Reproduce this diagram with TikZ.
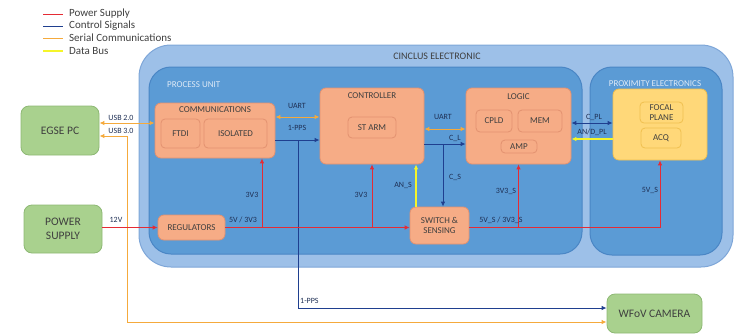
\documentclass[tikz,border=0pt]{standalone}
\usepackage{fontspec}
\setmainfont{Carlito}
\usetikzlibrary{arrows.meta}
\definecolor{OuterBlue}{HTML}{9DC0E8}
\definecolor{OuterEdge}{HTML}{7EA6D8}
\definecolor{InnerBlue}{HTML}{5B9BD5}
\definecolor{InnerEdge}{HTML}{4A86C5}
\definecolor{LOrange}{HTML}{F6AC86}
\definecolor{DOrange}{HTML}{E39270}
\definecolor{LYellow}{HTML}{FFD879}
\definecolor{DYellow}{HTML}{F0C050}
\definecolor{LGreen}{HTML}{A9D18E}
\definecolor{DGreen}{HTML}{8DB874}
\definecolor{PowerRed}{HTML}{E52B34}
\definecolor{CtrlBlue}{HTML}{1F3F8F}
\definecolor{SerialOrange}{HTML}{F5AA3C}
\definecolor{BusYellow}{HTML}{F5F52A}
\definecolor{TextGray}{HTML}{3F3F3F}
\definecolor{LabelBlue}{HTML}{1F3055}
\definecolor{TitleWhite}{HTML}{DDE9F6}
\NewDocumentCommand{\LegendEntry}{O{0.9pt} m m m m}{
    \draw[#4, line width=#1] (43,#3) -- (63,#3);
    \node[legendtext, anchor=west] (#2) at (69,#3) {#5};
}

\begin{document}
\begin{tikzpicture}[x=1pt, y=-1pt,
    every node/.style={inner sep=0pt, text=TextGray},
    housing/.style={draw=OuterEdge, fill=OuterBlue, line width=1pt, rounded corners=32pt},
    unit/.style={draw=InnerEdge, fill=InnerBlue, line width=1pt, rounded corners=22pt},
    unitname/.style={text=TitleWhite, font=\fontsize{9}{10}\selectfont},
    orangebox/.style={draw=DOrange, fill=LOrange, line width=0.8pt, rounded corners=6pt,
        align=center, font=\fontsize{9}{10.5}\selectfont},
    orangesub/.style={orangebox, rounded corners=4pt},
    yellowbox/.style={draw=DYellow, fill=LYellow, line width=0.8pt, rounded corners=6pt,
        align=center, font=\fontsize{9}{10.5}\selectfont},
    yellowsub/.style={yellowbox, rounded corners=4pt},
    greenbox/.style={draw=DGreen, fill=LGreen, line width=0.8pt, rounded corners=8pt,
        align=center, font=\fontsize{11.5}{14}\selectfont},
    boxtitle/.style={font=\fontsize{9}{10.5}\selectfont},
    sig/.style={font=\fontsize{8}{9}\selectfont, text=LabelBlue},
    legendtext/.style={font=\fontsize{11}{12}\selectfont},
    power/.style={PowerRed, line width=0.9pt},
    control/.style={CtrlBlue, line width=0.9pt},
    serial/.style={SerialOrange, line width=1pt},
    databus/.style={BusYellow, line width=2.2pt},
    arr/.style={-{Latex[length=5pt, width=4.5pt]}},
    biarr/.style={{Latex[length=5pt, width=4.5pt]}-{Latex[length=5pt, width=4.5pt]}}]
\useasboundingbox (0,0) rectangle (743,335);

% legend
\LegendEntry{leg-power}{14}{PowerRed}{Power Supply}
\LegendEntry{leg-control}{26}{CtrlBlue}{Control Signals}
\LegendEntry{leg-serial}{38}{SerialOrange}{Serial Communications}
\LegendEntry[2.5pt]{leg-bus}{51}{BusYellow}{Data Bus}

% housings
\node[housing, minimum width=594, minimum height=222] (cinclus) at (436,156) {};
\node[font=\fontsize{10}{12}\selectfont] (cinclus-title) at (437,56) {CINCLUS ELECTRONIC};
\node[unit, minimum width=433, minimum height=187] (pu) at (365.5,160.5) {};
\node[unit, minimum width=132, minimum height=188] (pe) at (656,161) {};
\node[unitname, anchor=west] (pu-title) at (167,85) {PROCESS UNIT};
\node[unitname] (pe-title) at (655,84) {PROXIMITY ELECTRONICS};

% outside boxes
\node[greenbox, minimum width=78, minimum height=49] (egse) at (60,130.5) {EGSE PC};
\node[greenbox, minimum width=78, minimum height=48] (psu) at (63,229) {POWER\\SUPPLY};
\node[greenbox, minimum width=95, minimum height=39] (wfov) at (654.5,313.5) {WFoV CAMERA};

% process unit
\node[orangebox, minimum width=120, minimum height=55] (comm) at (215,130.5) {};
\node[boxtitle] (comm-title) at (215,110) {COMMUNICATIONS};
\node[orangesub, minimum width=39, minimum height=29] (ftdi) at (180.5,133.5) {FTDI};
\node[orangesub, minimum width=63, minimum height=29] (isolated) at (235.5,133.5) {ISOLATED};

\node[orangebox, minimum width=104, minimum height=76] (ctrl) at (372,126) {};
\node[boxtitle] (ctrl-title) at (372,96) {CONTROLLER};
\node[orangesub, minimum width=48, minimum height=21] (starm) at (372,127.5) {ST ARM};

\node[orangebox, minimum width=105, minimum height=76] (logic) at (518.5,126) {};
\node[boxtitle] (logic-title) at (518.5,97) {LOGIC};
\node[orangesub, minimum width=36, minimum height=22] (cpld) at (494,121) {CPLD};
\node[orangesub, minimum width=44, minimum height=22] (mem) at (540,121) {MEM};
\node[orangesub, minimum width=36, minimum height=13] (amp) at (519,146.5) {AMP};

\node[orangebox, minimum width=67, minimum height=25] (reg) at (191.5,227.5) {REGULATORS};
\node[orangebox, minimum width=59, minimum height=37] (sws) at (439.5,225.5) {SWITCH \&\\SENSING};

% proximity electronics
\node[yellowbox, minimum width=94, minimum height=71] (fpa) at (660,124.5) {};
\node[yellowsub, minimum width=43, minimum height=21] (focal) at (661.5,112.5) {FOCAL\\PLANE};
\node[yellowsub, minimum width=40, minimum height=20] (acq) at (661,138) {ACQ};

% serial links
\coordinate (usb2) at ([yshift=7.5pt]egse.east);
\coordinate (usb3) at ([yshift=-5.5pt]egse.east);
\coordinate (usb3-bend) at (127,322);
\draw[serial, biarr] (usb2) -- (usb2 -| comm.west);
\draw[serial, biarr] (usb3) -| (usb3-bend) -- (usb3-bend -| wfov.west);
\coordinate (uart1) at ([yshift=13.5pt]comm.east);
\draw[serial, biarr] (uart1) -- (uart1 -| ctrl.west);
\coordinate (uart2) at ([yshift=-3pt]ctrl.east);
\draw[serial, biarr] (uart2) -- (uart2 -| logic.west);

% control signals
\coordinate (pps1) at ([yshift=-9.5pt]comm.east);
\draw[control, arr] (pps1) -- (pps1 -| ctrl.west);
\coordinate (pps-tap) at (298,140);
\draw[control, arr] (pps-tap) |- ([yshift=5.5pt]wfov.west);
\coordinate (cl) at ([yshift=-18pt]ctrl.east);
\draw[control, arr] (cl) -- (cl -| logic.west);
\coordinate (cs) at (443,144);
\draw[control, arr] (cs) -- (cs |- sws.north);
\coordinate (cpl) at ([yshift=3pt]logic.east);
\draw[control, biarr] (cpl) -- (cpl -| fpa.west);

% data bus
\coordinate (ans) at ([xshift=-23.5pt]sws.north);
\draw[databus, arr] (ans) -- (ans |- ctrl.south);
\coordinate (andpl) at ([yshift=-13pt]logic.east);
\draw[databus, arr] (andpl -| fpa.west) -- (andpl);

% power
\draw[power, arr] (psu.east |- reg.west) -- (reg.west);
\draw[power, arr] (reg.east) -- (reg.east -| sws.west);
\coordinate (tap-comm) at (262,227.5);
\draw[power, arr] (tap-comm) -- (tap-comm |- comm.south);
\draw[power, arr] (ctrl.south |- reg.east) -- (ctrl.south);
\coordinate (sw-out) at ([yshift=-1.5pt]sws.east);
\draw[power, arr] (sw-out) -| (fpa.south);
\draw[power, arr] (sw-out -| logic.south) -- (logic.south);

% labels
\node[sig] (lbl-usb2) at (121,118) {USB 2.0};
\node[sig] (lbl-usb3) at (121,131) {USB 3.0};
\node[sig] (lbl-uart1) at (297,106) {UART};
\node[sig] (lbl-pps1) at (297,128) {1-PPS};
\node[sig, anchor=west] (lbl-pps2) at (300,301) {1-PPS};
\node[sig] (lbl-uart2) at (443,117) {UART};
\node[sig] (lbl-cl) at (455,138) {C\_L};
\node[sig] (lbl-cs) at (455,177) {C\_S};
\node[sig] (lbl-ans) at (403,185) {AN\_S};
\node[sig] (lbl-cpl) at (594,117) {C\_PL};
\node[sig] (lbl-andpl) at (592,132) {AN/D\_PL};
\node[sig] (lbl-12v) at (116,220) {12V};
\node[sig] (lbl-reg) at (243,220) {5V / 3V3};
\node[sig] (lbl-3v3a) at (252,195) {3V3};
\node[sig] (lbl-3v3b) at (361,195) {3V3};
\node[sig] (lbl-sw) at (501,220) {5V\_S / 3V3\_S};
\node[sig] (lbl-3v3s) at (506,191) {3V3\_S};
\node[sig] (lbl-5vs) at (650,190) {5V\_S};
\end{tikzpicture}
\end{document}
